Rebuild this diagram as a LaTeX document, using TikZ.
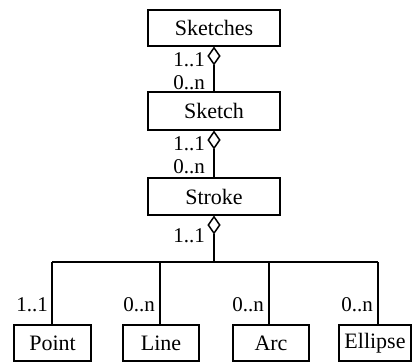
\documentclass[tikz,border=0pt]{standalone}
\usepackage{fontspec}
\setmainfont{Liberation Serif}
\usetikzlibrary{shapes.geometric}
\begin{document}
\begin{tikzpicture}[x=1pt,y=-1pt,
  cls/.style={draw,line width=1.5pt,rectangle,inner sep=0pt,font=\fontsize{22}{24}\selectfont},
  agg/.style={draw,line width=1.5pt,diamond,inner sep=0pt,minimum width=12pt,minimum height=17pt,anchor=north,fill=white},
  lbl/.style={inner sep=0pt,anchor=base east,font=\fontsize{21}{23}\selectfont},
  wire/.style={line width=1.5pt}]
\useasboundingbox (0,0) rectangle (412,362);
% classes
\node[cls,minimum width=132pt,minimum height=36pt] (sketches) at (214,28) {Sketches};
\node[cls,minimum width=132pt,minimum height=38pt] (sketch) at (214,111) {Sketch};
\node[cls,minimum width=132pt,minimum height=37pt] (stroke) at (214,196.5) {Stroke};
\node[cls,minimum width=77pt,minimum height=36pt] (point) at (52.5,343) {Point};
\node[cls,minimum width=76pt,minimum height=36pt] (line) at (161,343) {Line};
\node[cls,minimum width=76pt,minimum height=36pt] (arc) at (271,343) {Arc};
\node[cls,minimum width=72pt,minimum height=36pt] (ellipse) at (375,343) {Ellipse};
% aggregation diamonds
\node[agg] (d1) at (sketches.south) {};
\node[agg] (d2) at (sketch.south) {};
\node[agg] (d3) at (stroke.south) {};
% connectors
\draw[wire] (d1.south) -- (sketch.north);
\draw[wire] (d2.south) -- (stroke.north);
\coordinate (hub) at (214,262);
\coordinate (j1) at (52,262);
\coordinate (j2) at (160,262);
\coordinate (j3) at (269,262);
\coordinate (j4) at (378,262);
\draw[wire] (d3.south) -- (hub);
\draw[wire] (j1) -- (j4);
\draw[wire] (j1) -- (j1 |- point.north);
\draw[wire] (j2) -- (j2 |- line.north);
\draw[wire] (j3) -- (j3 |- arc.north);
\draw[wire] (j4) -- (j4 |- ellipse.north);
% multiplicities
\node[lbl] (m1) at (205,66) {1..1};
\node[lbl] (m2) at (205,89) {0..n};
\node[lbl] (m3) at (205,150) {1..1};
\node[lbl] (m4) at (205,173) {0..n};
\node[lbl] (m5) at (205,242) {1..1};
\node[lbl] (m6) at (48,311) {1..1};
\node[lbl] (m7) at (155,311) {0..n};
\node[lbl] (m8) at (264,311) {0..n};
\node[lbl] (m9) at (373,311) {0..n};
\end{tikzpicture}
\end{document}
